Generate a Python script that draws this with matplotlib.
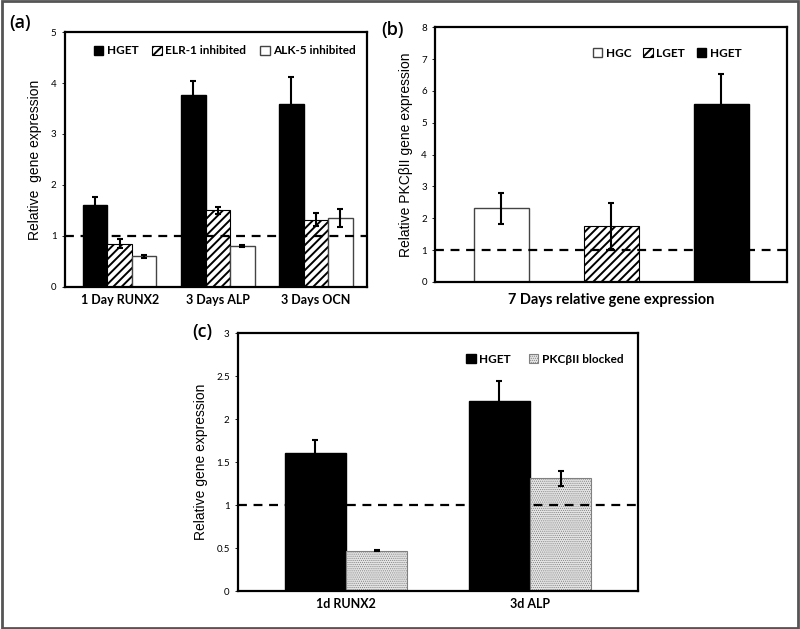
import numpy as np
import matplotlib
matplotlib.use('Agg')
import matplotlib.pyplot as plt
from matplotlib.patches import Rectangle

# ============================================================================
# DATA
# ============================================================================

# (a) osteogenic markers
a_groups = ['1 Day RUNX2', '3 Days ALP', '3 Days OCN']
a_series = ['HGET', 'ELR-1 inhibited', 'ALK-5 inhibited']
a_hget = [1.61, 3.76, 3.59]
a_hget_err = [0.15, 0.28, 0.52]
a_elr = [0.85, 1.50, 1.32]
a_elr_err = [0.09, 0.07, 0.13]
a_alk = [0.60, 0.81, 1.35]
a_alk_err = [0.03, 0.02, 0.18]

# (b) PKCbII at 7 days
b_series = ['HGC', 'LGET', 'HGET']
b_vals = [2.31, 1.75, 5.59]
b_err = [0.48, 0.72, 0.94]

# (c) PKCbII blocking
c_groups = ['1d RUNX2', '3d ALP']
c_hget = [1.61, 2.21]
c_hget_err = [0.15, 0.23]
c_pkc = [0.47, 1.31]
c_pkc_err = [0.01, 0.09]

# ============================================================================

LAB = ['Lato', 'DejaVu Sans']
ARIAL = ['Liberation Sans', 'DejaVu Sans']
PANEL = ['Open Sans', 'DejaVu Sans']
plt.rcParams['font.family'] = LAB
plt.rcParams['hatch.linewidth'] = 1.4

fig = plt.figure(figsize=(8, 6.29), dpi=100)
fig.patches.append(Rectangle((0.002, 0.002), 0.996, 0.996, transform=fig.transFigure,
                             fill=False, edgecolor='#555555', linewidth=2))

ekw = dict(ecolor='black', elinewidth=1.5, capsize=2.5, capthick=1.5)


def style_axes(ax):
    for sp in ax.spines.values():
        sp.set_linewidth(1.6)
    ax.tick_params(axis='y', length=2, width=0.6, labelsize=7, pad=4)
    ax.tick_params(axis='x', length=0, labelsize=9, pad=5)
    for t in ax.get_xticklabels():
        t.set_fontweight('bold')


# ---------------------------------------------------------------- (a)
ax = fig.add_axes([0.081, 0.544, 0.3775, 0.405])
x = np.arange(len(a_groups))
w = 0.25
ax.bar(x - w, a_hget, w, color='black', edgecolor='black', yerr=a_hget_err, error_kw=ekw, label=a_series[0])
ax.bar(x, a_elr, w, color='white', edgecolor='black', hatch='////', linewidth=0.8,
       yerr=a_elr_err, error_kw=ekw, label=a_series[1])
ax.bar(x + w, a_alk, w, color='white', edgecolor='#444444', linewidth=1.0,
       yerr=a_alk_err, error_kw=ekw, label=a_series[2])
ax.axhline(1, color='black', linestyle=(0, (4, 3)), linewidth=1.6, zorder=5)
ax.set_xlim(-0.56, 2.52)
ax.set_ylim(0, 5)
ax.set_yticks(range(6))
ax.set_xticks(x)
ax.set_xticklabels(a_groups)
ax.set_ylabel('Relative  gene expression', fontsize=10, family=ARIAL, labelpad=6)
style_axes(ax)
ax.legend(loc='upper center', bbox_to_anchor=(0.53, 0.99), ncol=3, frameon=False,
          handlelength=0.8, handleheight=0.8, handletextpad=0.3, columnspacing=1.2,
          prop=dict(family=LAB, weight='bold', size=8.5))
fig.text(0.012, 0.955, '(a)', fontsize=13, family=PANEL, fontweight='semibold')

# ---------------------------------------------------------------- (b)
ax = fig.add_axes([0.544, 0.5517, 0.44, 0.405])
xb = np.arange(len(b_series))
styles = [dict(color='white', edgecolor='#444444', linewidth=1.0),
          dict(color='white', edgecolor='black', hatch='////', linewidth=0.8),
          dict(color='black', edgecolor='black')]
for i in range(len(b_series)):
    ax.bar(xb[i], b_vals[i], 0.5, yerr=b_err[i], error_kw=ekw, label=b_series[i], **styles[i])
ax.axhline(1, color='black', linestyle=(0, (4, 3)), linewidth=1.6, zorder=5)
ax.set_xlim(-0.6, 2.6)
ax.set_ylim(0, 8)
ax.set_yticks(range(9))
ax.set_xticks([])
ax.set_xlabel('7 Days relative gene expression', fontsize=10.5, fontweight='bold', labelpad=8)
ax.set_ylabel('Relative PKC\u03b2II gene expression', fontsize=10, family=ARIAL, labelpad=6)
style_axes(ax)
ax.legend(loc='upper right', bbox_to_anchor=(0.9, 0.96), ncol=3, frameon=False,
          handlelength=0.8, handleheight=0.8, handletextpad=0.3, columnspacing=1.0,
          prop=dict(family=LAB, weight='bold', size=8.5))
fig.text(0.477, 0.944, '(b)', fontsize=13, family=PANEL, fontweight='semibold')

# ---------------------------------------------------------------- (c)
plt.rcParams['hatch.linewidth'] = 0.5
ax = fig.add_axes([0.2975, 0.0604, 0.5, 0.41])
xc = np.arange(len(c_groups))
wc = 0.333
ax.bar(xc - wc / 2, c_hget, wc, color='black', edgecolor='black', yerr=c_hget_err, error_kw=ekw, label='HGET')
ax.bar(xc + wc / 2, c_pkc, wc, color='#e4e4e4', edgecolor='#808080', hatch='........', linewidth=0.8,
       yerr=c_pkc_err, error_kw=ekw, label='PKC\u03b2II blocked')
ax.axhline(1, color='black', linestyle=(0, (4, 3)), linewidth=1.6, zorder=5)
ax.set_xlim(-0.587, 1.587)
ax.set_ylim(0, 3)
ax.set_yticks(np.arange(0, 3.01, 0.5))
ax.set_yticklabels(['0', '0.5', '1', '1.5', '2', '2.5', '3'])
ax.set_xticks(xc)
ax.set_xticklabels(c_groups)
ax.set_ylabel('Relative gene expression', fontsize=10, family=ARIAL, labelpad=6)
style_axes(ax)
ax.legend(loc='upper right', bbox_to_anchor=(0.99, 0.96), ncol=2, frameon=False,
          handlelength=0.8, handleheight=0.8, handletextpad=0.3, columnspacing=1.5,
          prop=dict(family=LAB, weight='bold', size=8.5))
fig.text(0.240, 0.465, '(c)', fontsize=13, family=PANEL, fontweight='semibold')

fig.savefig('out.png', dpi=100)
